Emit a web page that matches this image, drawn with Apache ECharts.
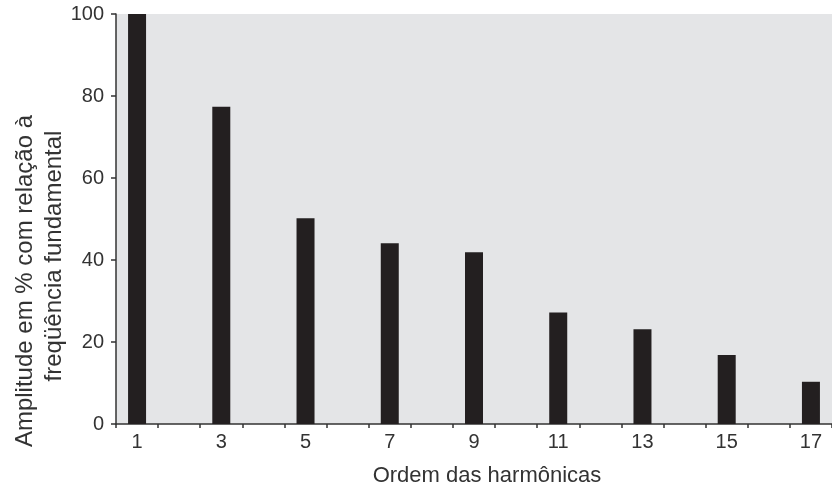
<!DOCTYPE html>
<html>
<head>
<meta charset="utf-8">
<script src="https://cdn.jsdelivr.net/npm/echarts@6/dist/echarts.min.js"></script>
<style>html,body{margin:0;padding:0;background:#fff;}#c{width:832px;height:488px;}</style>
</head>
<body>
<div id="c"></div>
<script>
var categories = ['1','2','3','4','5','6','7','8','9','10','11','12','13','14','15','16','17'];
var amplitudes = [100, null, 77.4, null, 50.2, null, 44.1, null, 41.9, null, 27.2, null, 23.1, null, 16.8, null, 10.3];
var yTicks = [0, 20, 40, 60, 80, 100];
var xName = 'Ordem das harmônicas';
var yName = ['Amplitude em % com relação à', 'freqüência fundamental'];

var FONT = '"Liberation Sans", Arial, sans-serif';
var chart = echarts.init(document.getElementById('c'), null, {renderer: 'canvas'});
chart.setOption({
  animation: false,
  grid: {left: 116, right: -6, top: 14, bottom: 64, show: true, backgroundColor: '#e4e5e7', borderWidth: 0},
  xAxis: {
    type: 'category', data: categories, boundaryGap: true,
    axisLine: {lineStyle: {color: '#333', width: 1.5}},
    axisTick: {show: true, interval: 0, length: 4, lineStyle: {color: '#333', width: 1.5}},
    axisLabel: {interval: 1, color: '#333', fontSize: 20, fontFamily: FONT, margin: 8}
  },
  yAxis: {
    type: 'value', min: yTicks[0], max: yTicks[yTicks.length - 1], interval: 20,
    splitLine: {show: false},
    axisLine: {show: true, lineStyle: {color: '#333', width: 1.5}},
    axisTick: {show: true, length: 5, lineStyle: {color: '#333', width: 1.5}},
    axisLabel: {color: '#333', fontSize: 20, fontFamily: FONT, margin: 12}
  },
  series: [{
    type: 'bar', data: amplitudes, barWidth: 18,
    itemStyle: {color: '#231f20'}
  }],
  graphic: [
    {type: 'text', x: 487, y: 476, style: {text: xName, fill: '#333', font: '22px ' + FONT, textAlign: 'center', textVerticalAlign: 'middle'}},
    {type: 'text', x: 25, y: 281, rotation: Math.PI / 2, style: {text: yName[0], fill: '#333', font: '24px ' + FONT, textAlign: 'center', textVerticalAlign: 'middle'}},
    {type: 'text', x: 54, y: 256, rotation: Math.PI / 2, style: {text: yName[1], fill: '#333', font: '24px ' + FONT, textAlign: 'center', textVerticalAlign: 'middle'}}
  ]
});
</script>
</body>
</html>
